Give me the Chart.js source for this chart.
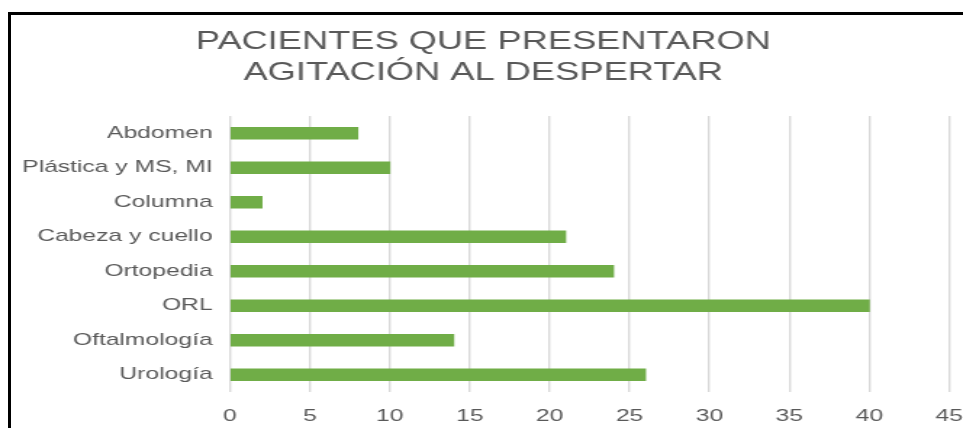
<!DOCTYPE html>
<html>
<head>
<meta charset="utf-8">
<script src="https://cdn.jsdelivr.net/npm/chart.js@4/dist/chart.umd.min.js"></script>
<style>
  html, body { margin: 0; padding: 0; background: #fff; overflow: hidden; }
  body { width: 963px; height: 428px; position: relative; }
  #wrap { position: absolute; left: 0; top: 0; width: 664px; height: 428px;
          transform: scaleX(1.4503); transform-origin: 0 0; }
  #frame { position: absolute; left: 8px; top: 12px; width: 960px; height: 420px;
           border-left: 3px solid #000; border-top: 3px solid #000; pointer-events: none; }
</style>
</head>
<body>
<div id="wrap"><canvas id="c"></canvas></div>
<div id="frame"></div>
<script>
const categories = ["Abdomen", "Plástica y MS, MI", "Columna", "Cabeza y cuello", "Ortopedia", "ORL", "Oftalmología", "Urología"];
const pacientes = [8, 10, 2, 21, 24, 40, 14, 26];
const titleLines = ["PACIENTES QUE PRESENTARON", "AGITACIÓN AL DESPERTAR"];
const xTickMin = 0;
const xTickMax = 45;
const xTickStep = 5;

const FONT = "'Liberation Sans', Arial, Helvetica, sans-serif";

new Chart(document.getElementById('c'), {
  type: 'bar',
  data: {
    labels: categories,
    datasets: [{
      data: pacientes,
      backgroundColor: '#70AD47',
      borderWidth: 0,
      barThickness: 12
    }]
  },
  options: {
    indexAxis: 'y',
    responsive: true,
    maintainAspectRatio: false,
    animation: false,
    devicePixelRatio: 1,
    layout: { padding: { left: 12, right: 9.5, top: 0, bottom: 0 } },
    plugins: {
      legend: { display: false },
      tooltip: { enabled: false },
      title: {
        display: true,
        text: titleLines,
        color: '#595959',
        font: { family: FONT, size: 25, weight: 'normal', lineHeight: 1.24 },
        padding: { top: 27, bottom: 27 }
      }
    },
    scales: {
      x: {
        min: xTickMin,
        max: xTickMax,
        ticks: {
          stepSize: xTickStep,
          color: '#595959',
          padding: 14,
          font: { family: FONT, size: 17 }
        },
        grid: { color: '#d9d9d9', lineWidth: 1.4, drawTicks: false },
        border: { display: false },
        afterFit: (s) => { s.height = 36; s.paddingLeft = 0; s.paddingRight = 0; }
      },
      y: {
        ticks: {
          color: '#595959',
          padding: 12,
          font: { family: FONT, size: 17 }
        },
        grid: { display: false, drawTicks: false },
        border: { display: false },
        afterFit: (s) => { s.width = 146.6; s.paddingTop = 0; s.paddingBottom = 0; }
      }
    }
  }
});
</script>
</body>
</html>
